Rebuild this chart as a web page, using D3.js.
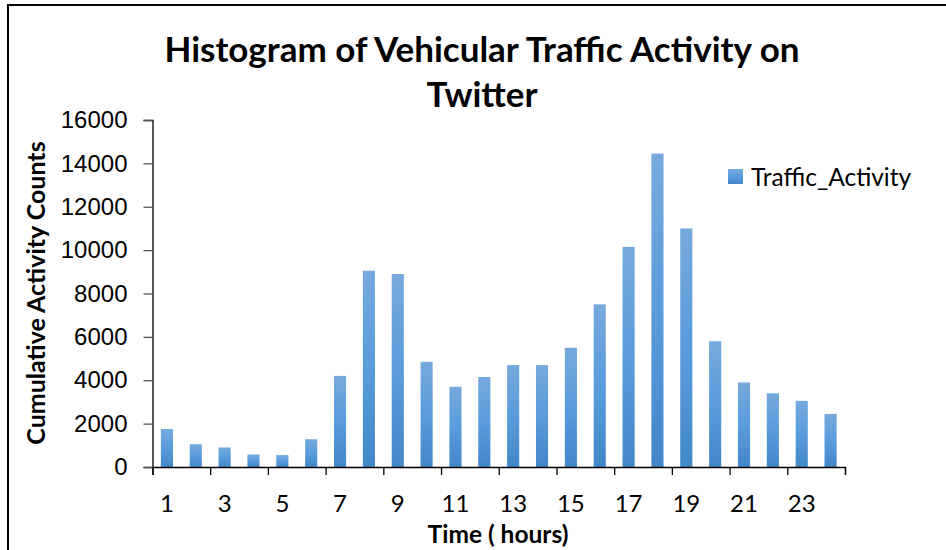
<!DOCTYPE html>
<html>
<head>
<meta charset="utf-8">
<script src="https://cdn.jsdelivr.net/npm/d3@7"></script>
<style>
  body { margin: 0; background: #fff; }
  svg { display: block; font-family: Lato, "Open Sans", sans-serif; }
</style>
</head>
<body>
<svg></svg>
<script>
// hours of the day and tweet counts per hour
const hours = d3.range(1, 25);
const counts = [1750, 1050, 900, 580, 550, 1280, 4200, 9050, 8900, 4850, 3700, 4150,
                4700, 4700, 5500, 7500, 10150, 14450, 11000, 5800, 3900, 3400, 3050, 2450];
const yTicks = [0, 2000, 4000, 6000, 8000, 10000, 12000, 14000, 16000];
const xTickLabels = [1, 3, 5, 7, 9, 11, 13, 15, 17, 19, 21, 23];
const seriesName = 'Traffic_Activity';

const [width, height] = [946, 550];
const plot = {left: 152.5, right: 845, top: 120, bottom: 467};

const svg = d3.select('svg')
    .attr('width', width)
    .attr('height', height);

// 渐变色
const grad = svg.append('defs').append('linearGradient')
    .attr('id', 'barGrad')
    .attr('x1', 0).attr('y1', 0).attr('x2', 0).attr('y2', 1);
grad.append('stop').attr('offset', '0%').attr('stop-color', '#77a9dd');
grad.append('stop').attr('offset', '50%').attr('stop-color', '#5a9cdc');
grad.append('stop').attr('offset', '100%').attr('stop-color', '#4287c8');

// 外框 (top + left only)
svg.append('path')
    .attr('d', `M8,${height} V5 H${width}`)
    .attr('fill', 'none')
    .attr('stroke', '#000')
    .attr('stroke-width', 2);

const x = d3.scaleBand()
    .domain(hours)
    .range([plot.left, plot.right])
    .paddingInner(0.58)
    .paddingOuter(0.29);

const xLin = d3.scaleLinear()
    .domain([0, hours.length])
    .range([plot.left, plot.right]);

const y = d3.scaleLinear()
    .domain([0, 16000])
    .range([plot.bottom, plot.top]);

// bars
svg.append('g').selectAll('rect')
    .data(counts)
    .enter()
    .append('rect')
    .attr('x', (d, i) => x(hours[i]))
    .attr('y', d => y(d))
    .attr('width', x.bandwidth())
    .attr('height', d => y(0) - y(d))
    .attr('fill', 'url(#barGrad)');

// y axis
const yAxis = svg.append('g')
    .attr('transform', `translate(${plot.left},0)`)
    .call(d3.axisLeft(y).tickValues(yTicks).tickSize(9).tickPadding(16).tickFormat(d3.format('d')));
yAxis.select('.domain').attr('stroke', '#000').attr('stroke-width', 1.3);
yAxis.selectAll('.tick line').attr('stroke', '#555').attr('stroke-width', 1.3);
yAxis.selectAll('.tick text')
    .attr('font-size', 24)
    .attr('fill', '#000');

// x axis
const xAxis = svg.append('g')
    .attr('transform', `translate(0,${plot.bottom})`)
    .call(d3.axisBottom(xLin).tickValues(d3.range(0, 25, 2)).tickSize(8).tickFormat(''));
xAxis.select('.domain').attr('stroke', '#000').attr('stroke-width', 1.3);
xAxis.selectAll('.tick line').attr('stroke', '#000').attr('stroke-width', 1.3);

svg.append('g').selectAll('text')
    .data(xTickLabels)
    .enter()
    .append('text')
    .attr('x', d => x(d) + x.bandwidth() / 2)
    .attr('y', 512)
    .attr('text-anchor', 'middle')
    .attr('font-size', 24)
    .text(d => d);

// titles
svg.append('text')
    .attr('x', 482).attr('y', 62)
    .attr('text-anchor', 'middle')
    .attr('font-size', 35).attr('font-weight', 'bold')
    .text('Histogram of Vehicular Traffic Activity on');
svg.append('text')
    .attr('x', 482).attr('y', 107)
    .attr('text-anchor', 'middle')
    .attr('font-size', 35).attr('font-weight', 'bold')
    .text('Twitter');

svg.append('text')
    .attr('x', 498).attr('y', 543)
    .attr('text-anchor', 'middle')
    .attr('font-size', 24.5).attr('font-weight', 'bold')
    .text('Time ( hours)');

svg.append('text')
    .attr('transform', 'translate(45,293) rotate(-90)')
    .attr('text-anchor', 'middle')
    .attr('font-size', 25).attr('font-weight', 'bold')
    .text('Cumulative Activity Counts');

// legend
const legend = svg.append('g').attr('transform', 'translate(728,169)');
legend.append('rect')
    .attr('width', 15).attr('height', 15)
    .attr('fill', 'url(#barGrad)');
legend.append('text')
    .attr('x', 23).attr('y', 17)
    .attr('font-size', 24.5)
    .text(seriesName);
</script>
</body>
</html>
